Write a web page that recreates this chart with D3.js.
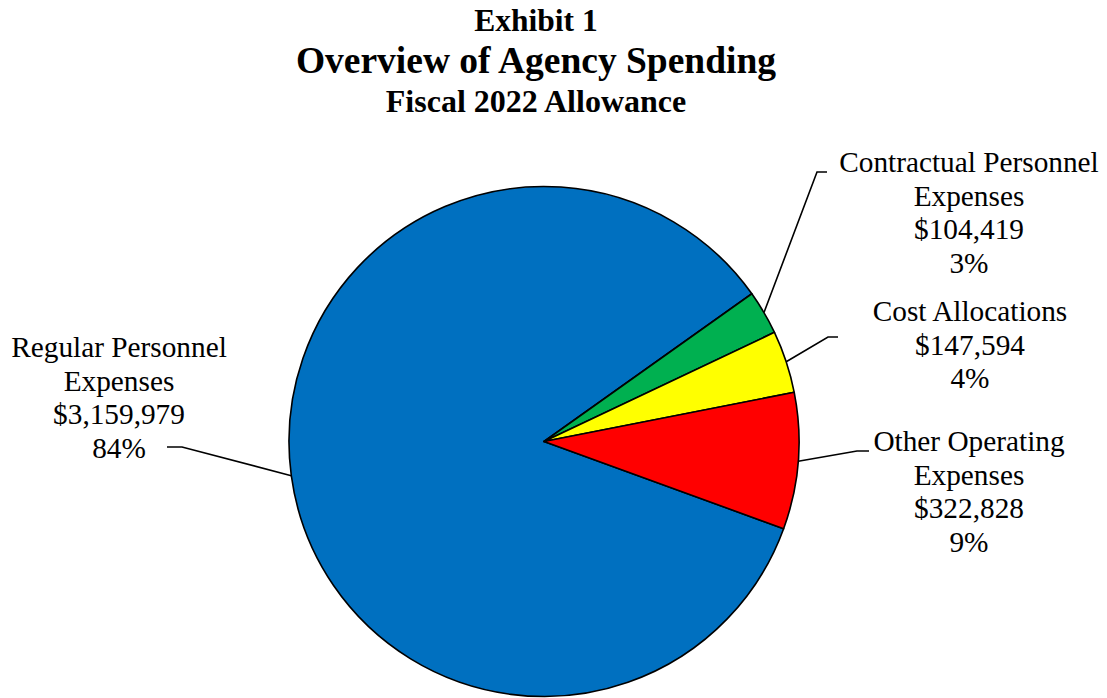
<!DOCTYPE html>
<html>
<head>
<meta charset="utf-8">
<script src="https://cdn.jsdelivr.net/npm/d3@7"></script>
<style>
  html, body { margin: 0; padding: 0; background: #fff; }
  svg { display: block; }
  text { font-family: "Liberation Serif", "Times New Roman", serif; fill: #000; }
</style>
</head>
<body>
<svg id="chart" width="1107" height="698"></svg>
<script>
// ---- data ----
const categories = ["Regular Personnel Expenses", "Contractual Personnel Expenses", "Cost Allocations", "Other Operating Expenses"];
const values = [3159979, 104419, 147594, 322828];
const percentLabels = ["84%", "3%", "4%", "9%"];
const labelLines = [
  ["Regular Personnel", "Expenses"],
  ["Contractual Personnel", "Expenses"],
  ["Cost Allocations"],
  ["Other Operating", "Expenses"]
];
const colors = ["#0070C0", "#00B050", "#FFFF00", "#FF0000"];
const titleLines = ["Exhibit 1", "Overview of Agency Spending", "Fiscal 2022 Allowance"];

// ---- layout ----
const W = 1107, H = 698;
const cx = 544, cy = 441.5, R = 255;
const labelLayout = [
  { x: 119, firstBaseline: 357, elbow: [182, 447], end: [167, 447] },
  { x: 969, firstBaseline: 172, elbow: [817, 172], end: [827, 172] },
  { x: 970, firstBaseline: 321, elbow: [828, 337], end: [838, 337] },
  { x: 969, firstBaseline: 451, elbow: [857, 451], end: [869, 451] }
];
const lineH = 33.7;

const svg = d3.select("#chart");

// titles
const titleSpec = [
  { size: 31.5, y: 31 },
  { size: 37.5, y: 73 },
  { size: 32, y: 112 }
];
titleLines.forEach((t, i) => {
  svg.append("text")
    .attr("x", 536).attr("y", titleSpec[i].y)
    .attr("text-anchor", "middle")
    .style("font-weight", "bold")
    .style("font-size", titleSpec[i].size + "px")
    .text(t);
});

const fmt = d3.format("$,");
const startA = 110 * Math.PI / 180;
const pie = d3.pie().sort(null).value(d => d).startAngle(startA).endAngle(startA + 2 * Math.PI);
const arcs = pie(values);
const arc = d3.arc().innerRadius(0).outerRadius(R);

const g = svg.append("g").attr("transform", `translate(${cx},${cy})`);
g.selectAll("path.slice").data(arcs).enter().append("path")
  .attr("class", "slice")
  .attr("d", arc)
  .attr("fill", (d, i) => colors[i])
  .attr("stroke", "#000")
  .attr("stroke-width", 1.6)
  .attr("stroke-linejoin", "round");

// leader lines & labels
arcs.forEach((d, i) => {
  const mid = (d.startAngle + d.endAngle) / 2;
  const px = cx + R * Math.sin(mid), py = cy - R * Math.cos(mid);
  const L = labelLayout[i];
  svg.append("polyline")
    .attr("points", [[px, py], L.elbow, L.end].map(p => p.join(",")).join(" "))
    .attr("fill", "none").attr("stroke", "#000").attr("stroke-width", 1.6);
  const lines = labelLines[i].concat([fmt(values[i]), percentLabels[i]]);
  const t = svg.append("text").attr("text-anchor", "middle").style("font-size", "29.3px");
  lines.forEach((ln, k) => {
    t.append("tspan").attr("x", L.x).attr("y", L.firstBaseline + k * lineH).text(ln);
  });
});
</script>
</body>
</html>
